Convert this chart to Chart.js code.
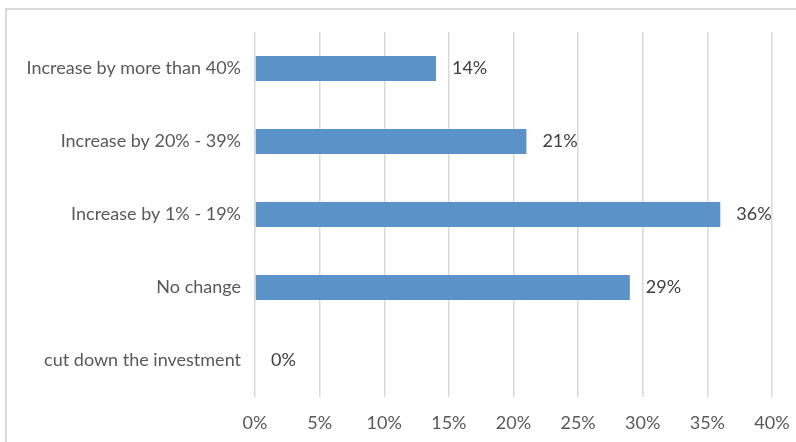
<!DOCTYPE html>
<html lang="en">
  <head>
    <meta charset="UTF-8" />
    <title>Investment change</title>
    <script src="https://cdn.jsdelivr.net/npm/chart.js"></script>
    <style>
      html, body { margin: 0; padding: 0; background: #fff; }
      .wrap { position: relative; width: 796px; height: 442px; }
      .frame {
        position: absolute; left: 5px; top: 8px; right: -4px; bottom: -4px;
        border-top: 2px solid #d9d9d9; border-left: 2px solid #d9d9d9;
      }
      canvas { position: absolute; left: 0; top: 0; }
    </style>
  </head>
  <body>
    <div class="wrap">
      <div class="frame"></div>
      <canvas id="chart" width="796" height="442"></canvas>
    </div>
    <script>
      const categories = [
        "Increase by more than 40%",
        "Increase by 20% - 39%",
        "Increase by 1% - 19%",
        "No change",
        "cut down the investment",
      ];
      const values = [14, 21, 36, 29, 0];
      const tickValues = [0, 5, 10, 15, 20, 25, 30, 35, 40];

      const fontFamily = "Lato, 'Open Sans', sans-serif";
      const fontSize = 18;

      // draws the "14%" style labels at the end of each bar
      const barLabels = {
        id: "barLabels",
        afterDatasetsDraw(chart) {
          const ctx = chart.ctx;
          const meta = chart.getDatasetMeta(0);
          ctx.save();
          ctx.font = fontSize + "px " + fontFamily;
          ctx.fillStyle = "#404040";
          ctx.textBaseline = "middle";
          ctx.textAlign = "left";
          meta.data.forEach((bar, i) => {
            ctx.fillText(values[i] + "%", bar.x + 16, bar.y);
          });
          ctx.restore();
        },
      };

      new Chart(document.getElementById("chart"), {
        type: "bar",
        data: {
          labels: categories,
          datasets: [
            {
              data: values,
              backgroundColor: "#5b93c9",
              borderWidth: 0,
              categoryPercentage: 1,
              barPercentage: 0.345,
            },
          ],
        },
        options: {
          indexAxis: "y",
          responsive: false,
          animation: false,
          layout: { padding: { top: 32, right: 24, bottom: 0, left: 0 } },
          plugins: { legend: { display: false }, tooltip: { enabled: false } },
          scales: {
            x: {
              min: 0,
              max: 40,
              afterBuildTicks(scale) {
                scale.ticks = tickValues.map((v) => ({ value: v }));
              },
              afterFit(scale) {
                scale.height = 45;
                scale.paddingLeft = 0;
                scale.paddingRight = 0;
              },
              border: { display: false },
              grid: { color: "#d9d9d9", lineWidth: 1.5, drawTicks: false },
              ticks: {
                padding: 15,
                color: "#595959",
                font: { family: fontFamily, size: fontSize },
                callback: (v) => v + "%",
              },
            },
            y: {
              afterFit(scale) {
                scale.width = 255;
              },
              border: { display: false },
              grid: { display: false, drawTicks: false },
              ticks: {
                padding: 14,
                color: "#595959",
                font: { family: fontFamily, size: fontSize },
              },
            },
          },
        },
        plugins: [barLabels],
      });
    </script>
  </body>
</html>
